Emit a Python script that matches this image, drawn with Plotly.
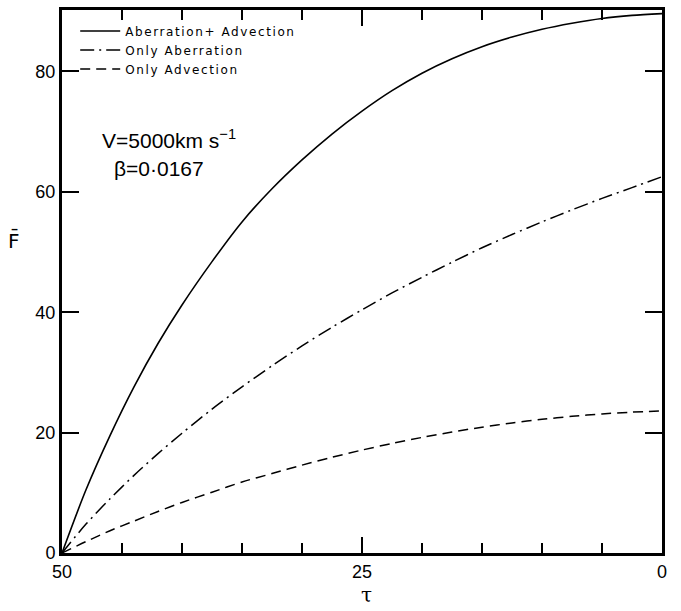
import plotly.graph_objects as go

# Optical depth grid (plotted decreasing from 50 to 0)
tau = [50, 48, 46, 44, 42, 40, 37.5, 35, 32.5, 30, 27.5, 25, 22.5, 20,
       17.5, 15, 12.5, 10, 7.5, 5, 2.5, 0]

# Mean flux for each physical case
flux_both = [0, 10.5, 19.5, 27.6, 34.8, 41.2, 48.4, 55.0, 60.5, 65.3, 69.6,
             73.4, 76.8, 79.7, 82.1, 84.1, 85.7, 87.0, 88.0, 88.8, 89.3, 89.6]
flux_aberration = [0, 4.8, 9.0, 12.9, 16.5, 19.9, 23.9, 27.6, 31.1, 34.4, 37.5,
                   40.4, 43.2, 45.8, 48.3, 50.7, 52.9, 55.0, 57.0, 58.9, 60.7, 62.5]
flux_advection = [0, 1.9, 3.7, 5.3, 6.9, 8.4, 10.1, 11.8, 13.2, 14.6, 15.9,
                  17.1, 18.2, 19.2, 20.1, 20.9, 21.6, 22.2, 22.7, 23.1, 23.4, 23.6]

series_names = ["Aberration+ Advection", "Only Aberration", "Only Advection"]
x_ticks = [50, 25, 0]
y_ticks = [0, 20, 40, 60, 80]

ink = "black"
font_main = "Liberation Sans"


def spaced(label):
    return '<span style="letter-spacing:1.6px">' + label + "</span>"


fig = go.Figure()
fig.add_trace(go.Scatter(x=tau, y=flux_both, mode="lines", name=spaced(series_names[0]),
                         line=dict(color=ink, width=1.6, shape="spline", smoothing=0.8)))
fig.add_trace(go.Scatter(x=tau, y=flux_aberration, mode="lines", name=spaced(series_names[1]),
                         line=dict(color=ink, width=1.5, dash="14px,5px,2px,5px",
                                   shape="spline", smoothing=0.8)))
fig.add_trace(go.Scatter(x=tau, y=flux_advection, mode="lines", name=spaced(series_names[2]),
                         line=dict(color=ink, width=1.5, dash="10px,6px",
                                   shape="spline", smoothing=0.8)))

fig.update_layout(
    width=681, height=611,
    margin=dict(l=62, r=19, t=7, b=58),
    paper_bgcolor="white", plot_bgcolor="white",
    font=dict(family=font_main, color=ink, size=18),
    showlegend=True,
    legend=dict(x=0.022, y=0.988, xanchor="left", yanchor="top",
                bgcolor="rgba(0,0,0,0)", borderwidth=0,
                font=dict(family="DejaVu Sans", size=12, color=ink),
                itemwidth=40, tracegroupgap=0),
)

fig.update_xaxes(
    range=[50, 0], tickmode="array", tickvals=x_ticks,
    ticktext=[str(v) for v in x_ticks],
    ticks="inside", ticklen=16, tickwidth=1.5, tickcolor=ink,
    minor=dict(dtick=5, tick0=0, ticks="inside", ticklen=10, tickwidth=1.5,
               tickcolor=ink, showgrid=False),
    showline=True, linewidth=3, linecolor=ink, mirror="ticks",
    showgrid=False, zeroline=False,
    tickfont=dict(size=18, family=font_main),
)
fig.update_yaxes(
    range=[0, 90.2], tickmode="array", tickvals=y_ticks,
    ticktext=[str(v) for v in y_ticks],
    ticks="inside", ticklen=17, tickwidth=1.5, tickcolor=ink,
    showline=True, linewidth=3, linecolor=ink, mirror="ticks",
    showgrid=False, zeroline=False,
    tickfont=dict(size=18, family=font_main),
)

# Axis titles
fig.add_annotation(text="F\u0304", xref="paper", yref="paper", x=-0.08, y=0.575,
                   xanchor="center", yanchor="middle",
                   showarrow=False, font=dict(size=20, family="DejaVu Sans", color=ink))
fig.add_annotation(text="\u03c4", xref="paper", yref="paper", x=0.507, y=-0.078,
                   xanchor="center", yanchor="middle",
                   showarrow=False, font=dict(size=20, family="DejaVu Serif", color=ink))

# Model parameters
fig.add_annotation(text="V=5000km s<sup>\u22121</sup>", xref="paper", yref="paper",
                   x=0.063, y=0.762, xanchor="left", yanchor="middle", showarrow=False,
                   font=dict(size=21, family=font_main, color=ink))
fig.add_annotation(text="\u03b2=0\u00b70167", xref="paper", yref="paper",
                   x=0.083, y=0.708, xanchor="left", yanchor="middle", showarrow=False,
                   font=dict(size=21, family=font_main, color=ink))

fig.write_html("out.html")
